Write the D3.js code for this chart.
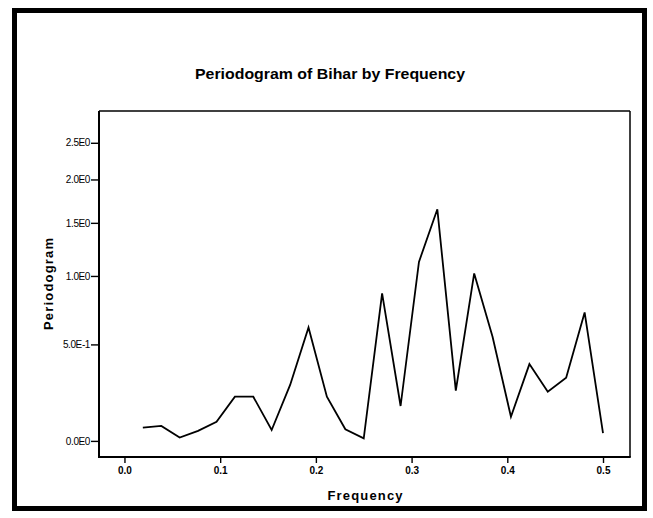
<!DOCTYPE html>
<html>
<head>
<meta charset="utf-8">
<script src="https://cdn.jsdelivr.net/npm/d3@7"></script>
<style>
  html, body { margin: 0; padding: 0; background: #fff; }
  svg { display: block; }
</style>
</head>
<body>
<svg id="chart" width="653" height="518"></svg>
<script>
// Periodogram ordinates at the Fourier frequencies k/52, k = 1..26
const frequencies = [
  0.0192, 0.0385, 0.0577, 0.0769, 0.0962, 0.1154, 0.1346, 0.1538, 0.1731,
  0.1923, 0.2115, 0.2308, 0.2500, 0.2692, 0.2885, 0.3077, 0.3269, 0.3462,
  0.3654, 0.3846, 0.4038, 0.4231, 0.4423, 0.4615, 0.4808, 0.5000
];
const periodogram = [
  0.057, 0.065, 0.014, 0.043, 0.084, 0.204, 0.204, 0.047, 0.265,
  0.611, 0.204, 0.050, 0.011, 0.859, 0.158, 1.122, 1.647, 0.235,
  1.021, 0.549, 0.107, 0.381, 0.230, 0.304, 0.716, 0.033
];
const xTickValues = [0.0, 0.1, 0.2, 0.3, 0.4, 0.5];
const xTickLabels = ["0.0", "0.1", "0.2", "0.3", "0.4", "0.5"];
const yTickValues = [0.0, 0.5, 1.0, 1.5, 2.0, 2.5];
const yTickLabels = ["0.0E0", "5.0E-1", "1.0E0", "1.5E0", "2.0E0", "2.5E0"];

const svg = d3.select("#chart");
const W = 653, H = 518;
const plot = { left: 99, right: 630, top: 111, bottom: 457 };

// outer heavy border
svg.append("rect")
  .attr("x", 14.5).attr("y", 10.5)
  .attr("width", 630).attr("height", 498)
  .attr("fill", "none").attr("stroke", "#000").attr("stroke-width", 5);

const x = d3.scaleLinear()
  .domain([-0.0266, 0.5282])
  .range([plot.left, plot.right]);

// periodogram axis uses a log(1 + p) scale
const y = d3.scaleSymlog().constant(1)
  .domain([-0.07, 3.0])
  .range([plot.bottom, plot.top]);

// title
svg.append("text")
  .attr("x", 330).attr("y", 79)
  .attr("text-anchor", "middle")
  .attr("font-family", "Liberation Sans, Arial, sans-serif")
  .attr("font-weight", "bold").attr("font-size", 14.5)
  .attr("textLength", 270).attr("lengthAdjust", "spacingAndGlyphs")
  .text("Periodogram of Bihar by Frequency");

// x axis
const xAxis = d3.axisBottom(x)
  .tickValues(xTickValues)
  .tickFormat((d, i) => xTickLabels[i])
  .tickSize(6).tickPadding(4);
const gx = svg.append("g")
  .attr("transform", `translate(0,${plot.bottom})`)
  .call(xAxis);
gx.select(".domain").remove();
gx.selectAll(".tick line").attr("stroke", "#000").attr("stroke-width", 1.4);
gx.selectAll(".tick text")
  .attr("font-family", "Liberation Sans, Arial, sans-serif")
  .attr("font-weight", "bold").attr("font-size", 10)
  .attr("fill", "#000");

// y axis
const yAxis = d3.axisLeft(y)
  .tickValues(yTickValues)
  .tickFormat((d, i) => yTickLabels[i])
  .tickSize(8).tickPadding(1);
const gy = svg.append("g")
  .attr("transform", `translate(${plot.left},0)`)
  .call(yAxis);
gy.select(".domain").remove();
gy.selectAll(".tick line").attr("stroke", "#000").attr("stroke-width", 1.4);
gy.selectAll(".tick text")
  .attr("font-family", "Liberation Sans Narrow, Liberation Sans, Arial, sans-serif")
  .attr("font-size", 10).attr("letter-spacing", -0.4)
  .attr("fill", "#000");

// plot frame
svg.append("line")
  .attr("x1", plot.left).attr("x2", plot.right)
  .attr("y1", plot.top).attr("y2", plot.top)
  .attr("stroke", "#000").attr("stroke-width", 1.5);
svg.append("line")
  .attr("x1", plot.right).attr("x2", plot.right)
  .attr("y1", plot.top).attr("y2", plot.bottom)
  .attr("stroke", "#000").attr("stroke-width", 1.5);
svg.append("line")
  .attr("x1", plot.left).attr("x2", plot.left)
  .attr("y1", plot.top).attr("y2", plot.bottom + 1)
  .attr("stroke", "#000").attr("stroke-width", 2);
svg.append("line")
  .attr("x1", plot.left - 1).attr("x2", plot.right + 0.75)
  .attr("y1", plot.bottom).attr("y2", plot.bottom)
  .attr("stroke", "#000").attr("stroke-width", 2);

// axis titles
svg.append("text")
  .attr("x", 365).attr("y", 500)
  .attr("text-anchor", "middle")
  .attr("font-family", "Liberation Sans, Arial, sans-serif")
  .attr("font-weight", "bold").attr("font-size", 13)
  .attr("textLength", 75).attr("lengthAdjust", "spacing")
  .text("Frequency");

svg.append("text")
  .attr("transform", "translate(53,284) rotate(-90)")
  .attr("text-anchor", "middle")
  .attr("font-family", "Liberation Sans, Arial, sans-serif")
  .attr("font-weight", "bold").attr("font-size", 13)
  .attr("textLength", 92).attr("lengthAdjust", "spacing")
  .text("Periodogram");

// periodogram line
const line = d3.line()
  .x((d, i) => x(frequencies[i]))
  .y(d => y(d));
svg.append("path")
  .datum(periodogram)
  .attr("d", line)
  .attr("fill", "none")
  .attr("stroke", "#000")
  .attr("stroke-width", 1.8)
  .attr("stroke-linejoin", "miter");
</script>
</body>
</html>
